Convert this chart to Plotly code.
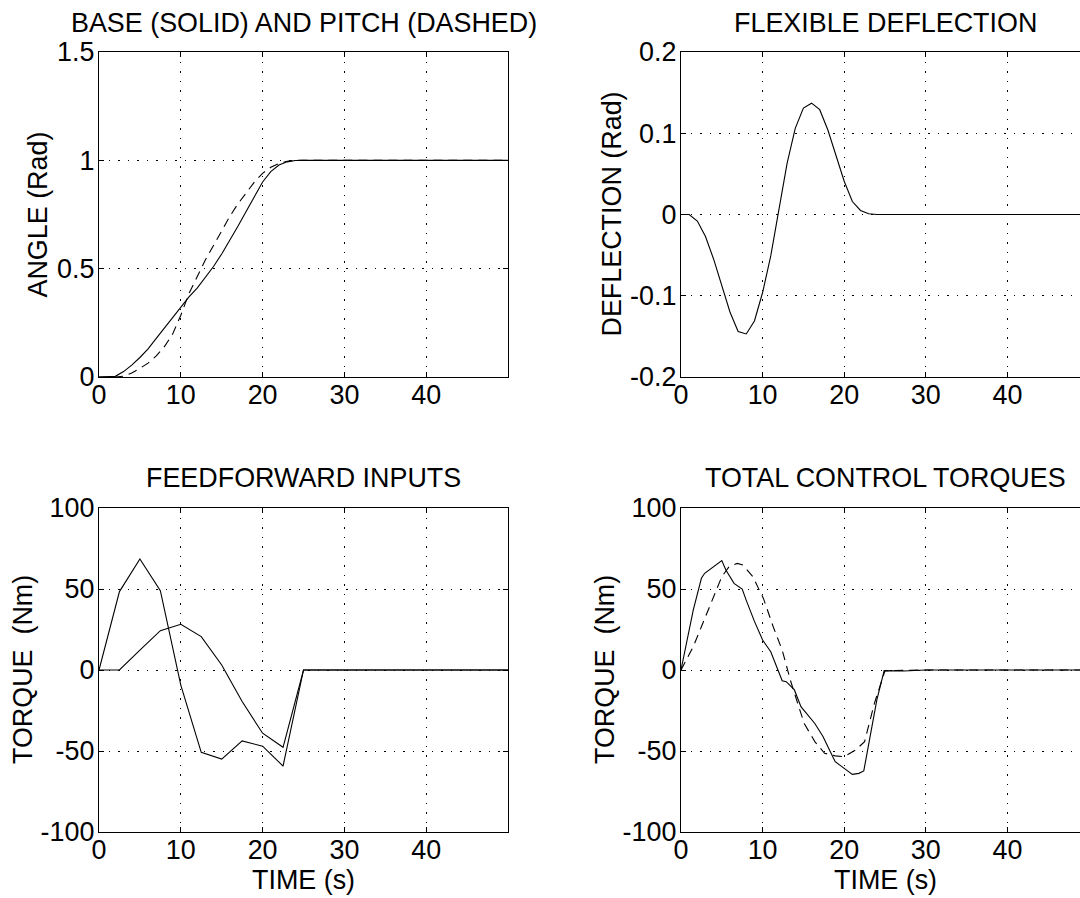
import plotly.graph_objects as go

W, H = 1080, 898
FONT = "Liberation Sans, Arial, Helvetica, sans-serif"
FS = 26.9

# ---------------- data ----------------
# Base (solid) and pitch (dashed) angles
t_angle = [0, 1, 2, 3, 4, 5, 6, 7, 8, 9, 10, 11, 12, 13, 14, 15, 16, 17, 18, 19, 20,
           21, 22, 23, 24, 25, 30, 40, 50]
angle_base = [0, 0.0, 0.003, 0.025, 0.055, 0.09, 0.13, 0.178, 0.226, 0.276, 0.326, 0.37,
              0.41, 0.46, 0.51, 0.568, 0.63, 0.697, 0.765, 0.835, 0.9, 0.948, 0.978,
              0.993, 0.999, 1.0, 1.0, 1.0, 1.0]
angle_pitch = [0, 0.0, 0.0, 0.004, 0.018, 0.04, 0.064, 0.097, 0.14, 0.198, 0.285, 0.385,
               0.465, 0.54, 0.607, 0.676, 0.742, 0.8, 0.852, 0.9, 0.94, 0.968, 0.986,
               0.996, 1.0, 1.0, 1.0, 1.0, 1.0]

# Flexible deflection
t_defl = [0, 1, 2, 3, 4, 5, 6, 7, 8, 9, 10, 11, 12, 13, 14, 15, 16, 17, 18, 19, 20,
          21, 22, 23, 24, 25, 30, 40, 50]
deflection = [0, 0, -0.008, -0.027, -0.055, -0.087, -0.12, -0.144, -0.147, -0.131,
              -0.096, -0.051, 0.006, 0.063, 0.106, 0.131, 0.137, 0.129, 0.104, 0.071,
              0.041, 0.016, 0.005, 0.001, 0.0, 0.0, 0.0, 0.0, 0.0]

# Feedforward inputs
t_ff = [0, 2.5, 5, 7.5, 10, 12.5, 15, 17.5, 20, 22.5, 25, 30, 40, 50]
ff_base = [0, 48.4, 68.5, 49, -9.3, -50.8, -55, -43.8, -47, -59.3, 0, 0, 0, 0]
ff_pitch = [0, 0, 12.3, 24.3, 28.2, 20.6, 3.1, -19.5, -39, -47.7, 0, 0, 0, 0]

# Total control torques
t_tq_base = [0, 1.5, 2.5, 2.9, 5, 5.5, 6.5, 7.5, 8, 9, 10, 11, 12.4, 12.9, 13.9, 14.7,
             16.4, 17.4, 18.3, 18.9, 20, 21, 21.8, 22.4, 24, 24.9, 27.3, 30, 40, 50]
tq_base = [0, 37, 56.6, 59.7, 67.5, 61.7, 53.5, 50, 43, 30, 18.5, 11.3, -6.6, -7.2,
           -12.3, -22.6, -33, -41, -50.4, -56.6, -60.7, -64.4, -63.8, -62.3, -18.5,
           -0.4, -0.6, 0, 0, 0]
t_tq_pitch = [0, 1.5, 2.5, 3.8, 5, 5.9, 6.9, 7.6, 8.8, 10.1, 11.3, 12.4, 13.4, 14.3,
              15.1, 16.4, 17.6, 18.9, 20, 21.4, 22.5, 23.7, 24.6, 25, 30, 40, 50]
tq_pitch = [0, 14.4, 26.7, 43, 57.6, 63.8, 65.8, 64.8, 57.6, 44.2, 26.7, 12.3, -6.2,
            -20.6, -33, -44.2, -51.4, -53, -53.5, -49.4, -44.2, -20.6, -6.2, -0.4, 0, 0, 0]

# axis ticks / labels
x_ticks = [0, 10, 20, 30, 40]
x_ticktext = ["0", "10", "20", "30", "40"]
angle_ticks = [0, 0.5, 1, 1.5]
angle_ticktext = ["0", "0.5", "1", "1.5"]
defl_ticks = [-0.2, -0.1, 0, 0.1, 0.2]
defl_ticktext = ["-0.2", "-0.1", "0", "0.1", "0.2"]
torque_ticks = [-100, -50, 0, 50, 100]
torque_ticktext = ["-100", "-50", "0", "50", "100"]

titles = ["BASE (SOLID) AND PITCH (DASHED)", "FLEXIBLE DEFLECTION",
          "FEEDFORWARD INPUTS", "TOTAL CONTROL TORQUES"]
ylabels = ["ANGLE (Rad)", "DEFLECTION (Rad)", "TORQUE  (Nm)", "TORQUE  (Nm)"]
xlabel = "TIME (s)"

# ---------------- layout geometry (pixels) ----------------
L_left, L_right = 99, 508
R_left = 681
R_right_full = 1089          # where x=50 would fall (beyond canvas)
T_top, T_bot = 52, 377
B_top, B_bot = 508, 832

def px(x):
    return x / W

def py(y):
    return 1 - y / H

x_max_right = 50 * (W - R_left) / (R_right_full - R_left)

line = dict(color="black", width=1.1)
dash_line = dict(color="black", width=1.1, dash="9px,6px")

fig = go.Figure()
fig.add_trace(go.Scatter(x=t_angle, y=angle_base, mode="lines", line=line, xaxis="x", yaxis="y"))
fig.add_trace(go.Scatter(x=t_angle, y=angle_pitch, mode="lines", line=dash_line, xaxis="x", yaxis="y"))
fig.add_trace(go.Scatter(x=t_defl, y=deflection, mode="lines", line=line, xaxis="x2", yaxis="y2"))
fig.add_trace(go.Scatter(x=t_ff, y=ff_base, mode="lines", line=line, xaxis="x3", yaxis="y3"))
fig.add_trace(go.Scatter(x=t_ff, y=ff_pitch, mode="lines", line=line, xaxis="x3", yaxis="y3"))
fig.add_trace(go.Scatter(x=t_tq_base, y=tq_base, mode="lines", line=line, xaxis="x4", yaxis="y4"))
fig.add_trace(go.Scatter(x=t_tq_pitch, y=tq_pitch, mode="lines", line=dash_line, xaxis="x4", yaxis="y4"))

common = dict(
    showline=True, linecolor="black", linewidth=1.2,
    ticks="inside", ticklen=5, tickcolor="black", tickwidth=1,
    showgrid=True, gridcolor="black", gridwidth=1, griddash="1.5px,8px",
    zeroline=False, automargin=False,
    tickfont=dict(family=FONT, size=FS, color="black"),
)

def xax(domain, anchor, rng):
    return dict(common, domain=domain, anchor=anchor, range=rng, tickvals=x_ticks,
                ticktext=x_ticktext, mirror="allticks", ticklabelstandoff=-6)

def yax(domain, anchor, rng, vals, text, mirror):
    return dict(common, domain=domain, anchor=anchor, range=rng, tickvals=vals,
                ticktext=text, mirror=mirror, ticklabelstandoff=-2)

top_dom = [py(T_bot), py(T_top)]
bot_dom = [py(B_bot), py(B_top)]
left_dom = [px(L_left), px(L_right)]
right_dom = [px(R_left), 1.0]

fig.update_layout(
    template="none",
    width=W, height=H, autosize=False,
    margin=dict(l=0, r=0, t=0, b=0, pad=0, autoexpand=False),
    paper_bgcolor="white", plot_bgcolor="white",
    showlegend=False, hovermode=False,
    font=dict(family=FONT, size=FS, color="black"),
    xaxis=xax(left_dom, "y", [0, 50]),
    yaxis=yax(top_dom, "x", [0, 1.5], angle_ticks, angle_ticktext, "allticks"),
    xaxis2=xax(right_dom, "y2", [0, x_max_right]),
    yaxis2=yax(top_dom, "x2", [-0.2, 0.2], defl_ticks, defl_ticktext, False),
    xaxis3=xax(left_dom, "y3", [0, 50]),
    yaxis3=yax(bot_dom, "x3", [-100, 100], torque_ticks, torque_ticktext, "allticks"),
    xaxis4=xax(right_dom, "y4", [0, x_max_right]),
    yaxis4=yax(bot_dom, "x4", [-100, 100], torque_ticks, torque_ticktext, False),
)

ann = []
tf = dict(family=FONT, size=FS, color="black")
# titles
for txt, cx, cy in [(titles[0], (L_left + L_right) / 2, 22.5),
                    (titles[1], (R_left + R_right_full) / 2, 22.5),
                    (titles[2], (L_left + L_right) / 2, 478),
                    (titles[3], (R_left + R_right_full) / 2, 478)]:
    ann.append(dict(text=txt, x=px(cx), y=py(cy), xref="paper", yref="paper",
                    xanchor="center", yanchor="middle", showarrow=False, font=tf))
# y labels
for txt, cx, cy in [(ylabels[0], 38, (T_top + T_bot) / 2),
                    (ylabels[1], 612, (T_top + T_bot) / 2),
                    (ylabels[2], 23, (B_top + B_bot) / 2),
                    (ylabels[3], 605, (B_top + B_bot) / 2)]:
    ann.append(dict(text=txt, x=px(cx), y=py(cy), xref="paper", yref="paper",
                    xanchor="center", yanchor="middle", textangle=-90,
                    showarrow=False, font=tf))
# x labels
for cx in [(L_left + L_right) / 2, (R_left + R_right_full) / 2]:
    ann.append(dict(text=xlabel, x=px(cx), y=py(880), xref="paper", yref="paper",
                    xanchor="center", yanchor="middle", showarrow=False, font=tf))
fig.update_layout(annotations=ann)

fig.write_html(
    "out.html",
    config={"displayModeBar": False, "staticPlot": True},
    post_script="document.body.style.margin='0';document.body.style.overflow='hidden';",
)
